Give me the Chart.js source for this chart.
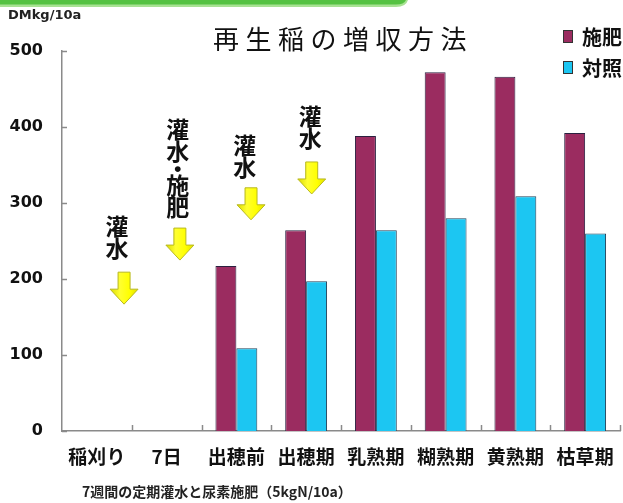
<!DOCTYPE html>
<html><head><meta charset="utf-8">
<script src="https://cdn.jsdelivr.net/npm/chart.js@4/dist/chart.umd.min.js"></script>
<style>html,body{margin:0;padding:0;background:#fff}#wrap{width:623px;height:503px}</style>
</head><body><div id="wrap"><canvas id="c" width="623" height="503"></canvas></div>
<script>
const categories = ['稲刈り','7日','出穂前','出穂期','乳熟期','糊熟期','黄熟期','枯草期'];
const seriesNames = ['施肥','対照'];
const fertilized = [null, null, 217, 264, 388, 472, 466, 392];
const control = [null, null, 109, 197, 264, 280, 309, 260];
const yTicks = [0, 100, 200, 300, 400, 500];
const titleText = '再生稲の増収方法';
const unitText = 'DMkg/10a';
const noteText = '7週間の定期灌水と尿素施肥（5kgN/10a）';
// annotations: text lines, category position of text / arrow, value of text top / arrow top
const annotTexts = [['灌','水'], ['灌','水','・','施','肥'], ['灌','水'], ['灌','水']];
const annotTextX = [0.29, 1.16, 2.12, 3.06];
const annotTextY = [282, 409, 389, 427];
const annotArrowX = [0.39, 1.19, 2.21, 3.08];
const annotArrowY = [209, 267, 320, 354];

const FERT = '#9b2c60', CTRL = '#1cc6f2';
const JP = '"Noto Sans CJK JP", "Noto Sans", sans-serif';

const decor = {
  id: 'decor',
  beforeDraw(chart) {
    const ctx = chart.ctx;
    ctx.save();
    ctx.fillStyle = '#a8e293';
    ctx.beginPath();
    ctx.moveTo(0, 0); ctx.lineTo(408, 0); ctx.quadraticCurveTo(406, 7, 396, 7); ctx.lineTo(0, 7); ctx.closePath(); ctx.fill();
    ctx.fillStyle = '#55c242';
    ctx.beginPath();
    ctx.moveTo(0, 0); ctx.lineTo(406, 0); ctx.quadraticCurveTo(404, 4.5, 396, 4.5); ctx.lineTo(0, 4.5); ctx.closePath(); ctx.fill();
    ctx.restore();
  },
  afterDraw(chart) {
    const ctx = chart.ctx, xs = chart.scales.x, ys = chart.scales.y, a = chart.chartArea;
    ctx.save();
    ctx.strokeStyle = '#8a8a8a'; ctx.lineWidth = 1.5;
    yTicks.forEach(v => { const y = Math.round(ys.getPixelForValue(v)) + 0.5; ctx.beginPath(); ctx.moveTo(a.left, y); ctx.lineTo(a.left + 5, y); ctx.stroke(); });
    for (let i = 0; i < categories.length; i++) {
      const x = Math.round(xs.getPixelForValue(i + 0.5)) + 0.5;
      ctx.beginPath(); ctx.moveTo(x, a.bottom); ctx.lineTo(x, a.bottom - 6); ctx.stroke();
    }
    ctx.fillStyle = '#111';
    ctx.font = '26px ' + JP;
    ctx.textAlign = 'center'; ctx.textBaseline = 'middle';
    [...titleText].forEach((ch, i) => ctx.fillText(ch, 226 + i * 32.5, 39));
    ctx.font = 'bold 13px "DejaVu Sans", sans-serif';
    ctx.textAlign = 'left';
    ctx.fillStyle = '#222';
    ctx.fillText(unitText, 8, 16);
    ctx.font = 'bold 14px ' + JP;
    ctx.fillText(noteText, 82, 492);
    const cols = [FERT, CTRL];
    seriesNames.forEach((n, i) => {
      const y = 30 + i * 31;
      ctx.fillStyle = cols[i]; ctx.fillRect(563, y, 10, 13);
      ctx.strokeStyle = '#333'; ctx.lineWidth = 1; ctx.strokeRect(563.5, y + 0.5, 9, 12);
      ctx.fillStyle = '#111'; ctx.font = 'bold 20px ' + JP; ctx.textBaseline = 'middle';
      ctx.fillText(n, 582, y + 7);
    });
    annotTexts.forEach((lines, k) => {
      const cx = xs.getPixelForValue(annotTextX[k]);
      let y = ys.getPixelForValue(annotTextY[k]);
      ctx.font = 'bold 23px ' + JP; ctx.textAlign = 'center'; ctx.textBaseline = 'top'; ctx.fillStyle = '#111';
      lines.forEach(ch => {
        if (ch === '・') { ctx.fillText(ch, cx, y - 6); y += 12; }
        else { ctx.fillText(ch, cx, y - 2); y += 22; }
      });
      const ax = xs.getPixelForValue(annotArrowX[k]);
      const ay = ys.getPixelForValue(annotArrowY[k]);
      const sw = 6, hw = 14, sh = 17, hh = 15;
      const g = ctx.createLinearGradient(ax - hw, 0, ax + hw, 0);
      g.addColorStop(0, '#d9d900'); g.addColorStop(0.35, '#ffff30'); g.addColorStop(0.7, '#ffff00'); g.addColorStop(1, '#e0e000');
      ctx.beginPath();
      ctx.moveTo(ax - sw, ay); ctx.lineTo(ax + sw, ay); ctx.lineTo(ax + sw, ay + sh);
      ctx.lineTo(ax + hw, ay + sh); ctx.lineTo(ax, ay + sh + hh); ctx.lineTo(ax - hw, ay + sh);
      ctx.lineTo(ax - sw, ay + sh); ctx.closePath();
      ctx.fillStyle = g; ctx.fill();
      ctx.strokeStyle = '#b8b820'; ctx.lineWidth = 1; ctx.stroke();
    });
    ctx.restore();
  }
};

new Chart(document.getElementById('c'), {
  type: 'bar',
  data: {
    labels: categories,
    datasets: [
      { label: seriesNames[0], data: fertilized, backgroundColor: FERT, borderColor: '#2b2140', borderWidth: 1 },
      { label: seriesNames[1], data: control, backgroundColor: CTRL, borderColor: '#23425a', borderWidth: 1 }
    ]
  },
  options: {
    responsive: false, animation: false,
    layout: { padding: { left: 0, right: 3, top: 51, bottom: 0 } },
    datasets: { bar: { categoryPercentage: 0.6, barPercentage: 1.0 } },
    plugins: { legend: { display: false }, title: { display: false }, tooltip: { enabled: false } },
    scales: {
      x: {
        grid: { display: false, drawTicks: false },
        border: { display: true, color: '#8a8a8a', width: 1.5 },
        ticks: { color: '#111', font: { family: JP, size: 19, weight: 'bold' }, padding: 14, maxRotation: 0, autoSkip: false },
        afterFit(s) { s.height = 72; s.paddingLeft = 0; s.paddingRight = 0; }
      },
      y: {
        min: 0, max: 500,
        grid: { display: false, drawTicks: false },
        border: { display: true, color: '#8a8a8a', width: 1.5 },
        ticks: { stepSize: 100, color: '#111', font: { family: '"DejaVu Sans", sans-serif', size: 16, weight: 'bold' }, padding: 19 },
        afterFit(s) { s.width = 62; s.paddingTop = 0; s.paddingBottom = 0; }
      }
    }
  },
  plugins: [decor]
});
</script></body></html>
